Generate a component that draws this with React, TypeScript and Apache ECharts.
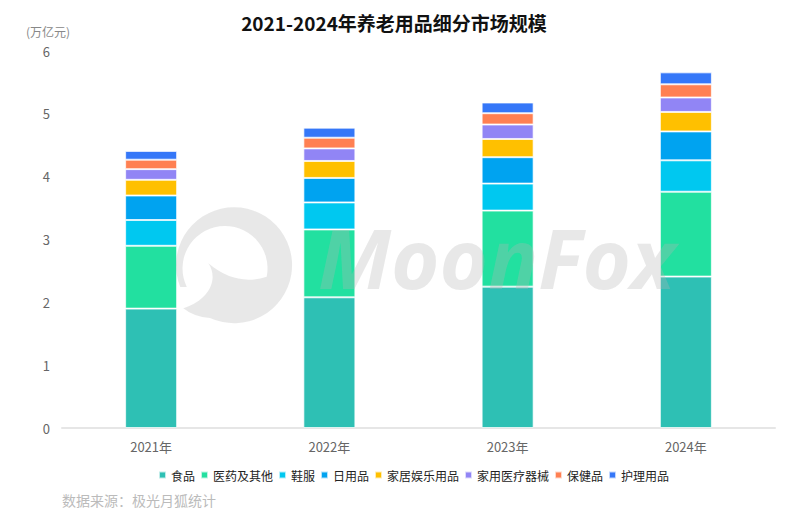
import React, { useEffect, useRef } from "react";
import * as echarts from "echarts";

const years = ["2021年", "2022年", "2023年", "2024年"];
const seriesNames = ["食品", "医药及其他", "鞋服", "日用品", "家居娱乐用品", "家用医疗器械", "保健品", "护理用品"];
const food = [1.9, 2.08, 2.25, 2.41];
const medicine = [1.0, 1.08, 1.21, 1.35];
const apparel = [0.41, 0.43, 0.43, 0.5];
const daily = [0.39, 0.39, 0.42, 0.46];
const homeEnt = [0.25, 0.27, 0.29, 0.31];
const medDevice = [0.17, 0.2, 0.23, 0.23];
const health = [0.15, 0.17, 0.18, 0.21];
const care = [0.14, 0.16, 0.17, 0.19];
const colors = ["#2EC0B4", "#22E0A0", "#00C8F0", "#00A3F0", "#FFC000", "#9185F5", "#FF8052", "#3577F8"];
const yTicks = [0, 1, 2, 3, 4, 5, 6];

const logoPath =
  "M -50.7 43.3 Q -40 52 -24 53 A 58 58 0 1 0 -53.7 22 L -47.2 22 A 42.5 42.5 0 1 1 32.7 11.7 Q 1.9 21.6 -25.7 -1.7 C -16 12 -22 34 -50.7 43.3 Z";

export default function App() {
  const ref = useRef<HTMLDivElement>(null);
  useEffect(() => {
    if (!ref.current) return;
    try {
      echarts.graphic.registerShape("logo", echarts.graphic.extendPath(logoPath, {}));
    } catch (e) {}
    const chart = echarts.init(ref.current, null, { renderer: "svg" });
    const data = [food, medicine, apparel, daily, homeEnt, medDevice, health, care];
    const font = "'Noto Sans CJK SC', 'Noto Sans', sans-serif";
    const wm = "rgba(181,181,181,0.31)";
    chart.setOption({
      animation: false,
      color: colors,
      textStyle: { fontFamily: font },
      title: {
        text: "2021-2024年养老用品细分市场规模",
        left: 389,
        top: 8,
        textAlign: "center",
        textStyle: { fontSize: 19, fontWeight: "bold", color: "#111", fontFamily: font },
      },
      grid: { left: 62, right: 25, top: 51, bottom: 92, containLabel: false },
      legend: {
        bottom: 34,
        left: 153,
        itemWidth: 7,
        itemHeight: 7,
        itemGap: 5,
        icon: "rect",
        textStyle: { fontSize: 12, color: "#222" },
        data: seriesNames,
      },
      xAxis: {
        type: "category",
        data: years,
        axisLine: { lineStyle: { color: "#E6E6E6", width: 2 } },
        axisTick: { show: false },
        axisLabel: { color: "#666", fontSize: 13, margin: 12 },
      },
      yAxis: {
        type: "value",
        min: 0,
        max: 6,
        interval: 1,
        name: "(万亿元)",
        nameLocation: "end",
        nameGap: 14,
        nameTextStyle: { color: "#888", fontSize: 12, align: "right", padding: [0, -8, 0, 0] },
        axisLine: { show: false },
        axisTick: { show: false },
        splitLine: { show: false },
        axisLabel: { color: "#666", fontSize: 13, margin: 12, formatter: (v: number) => (yTicks.includes(v) ? String(v) : "") },
      },
      series: seriesNames.map((name, i) => ({
        name,
        type: "bar",
        stack: "total",
        barWidth: 52,
        data: data[i],
        itemStyle: { color: colors[i], borderColor: "rgba(255,255,255,0.7)", borderWidth: 1 },
      })),
      graphic: [
        {
          type: "logo",
          x: 234,
          y: 265,
          z: 100,
          silent: true,
          style: { fill: wm },
        },
        {
          type: "text",
          x: 318,
          y: 298,
          z: 100,
          silent: true,
          style: {
            text: "MoonFox",
            fontSize: 83,
            fontWeight: "bold",
            fontStyle: "italic",
            fontFamily: "'Noto Sans', sans-serif",
            fill: wm,
            textVerticalAlign: "bottom",
          },
        },
        {
          type: "text",
          left: 62,
          top: 493,
          style: { text: "数据来源：极光月狐统计", fontSize: 14, fill: "#BBBBBB", fontFamily: font },
        },
      ],
    });
    return () => chart.dispose();
  }, []);
  return <div ref={ref} style={{ width: 800, height: 520, margin: -8 }} />;
}
